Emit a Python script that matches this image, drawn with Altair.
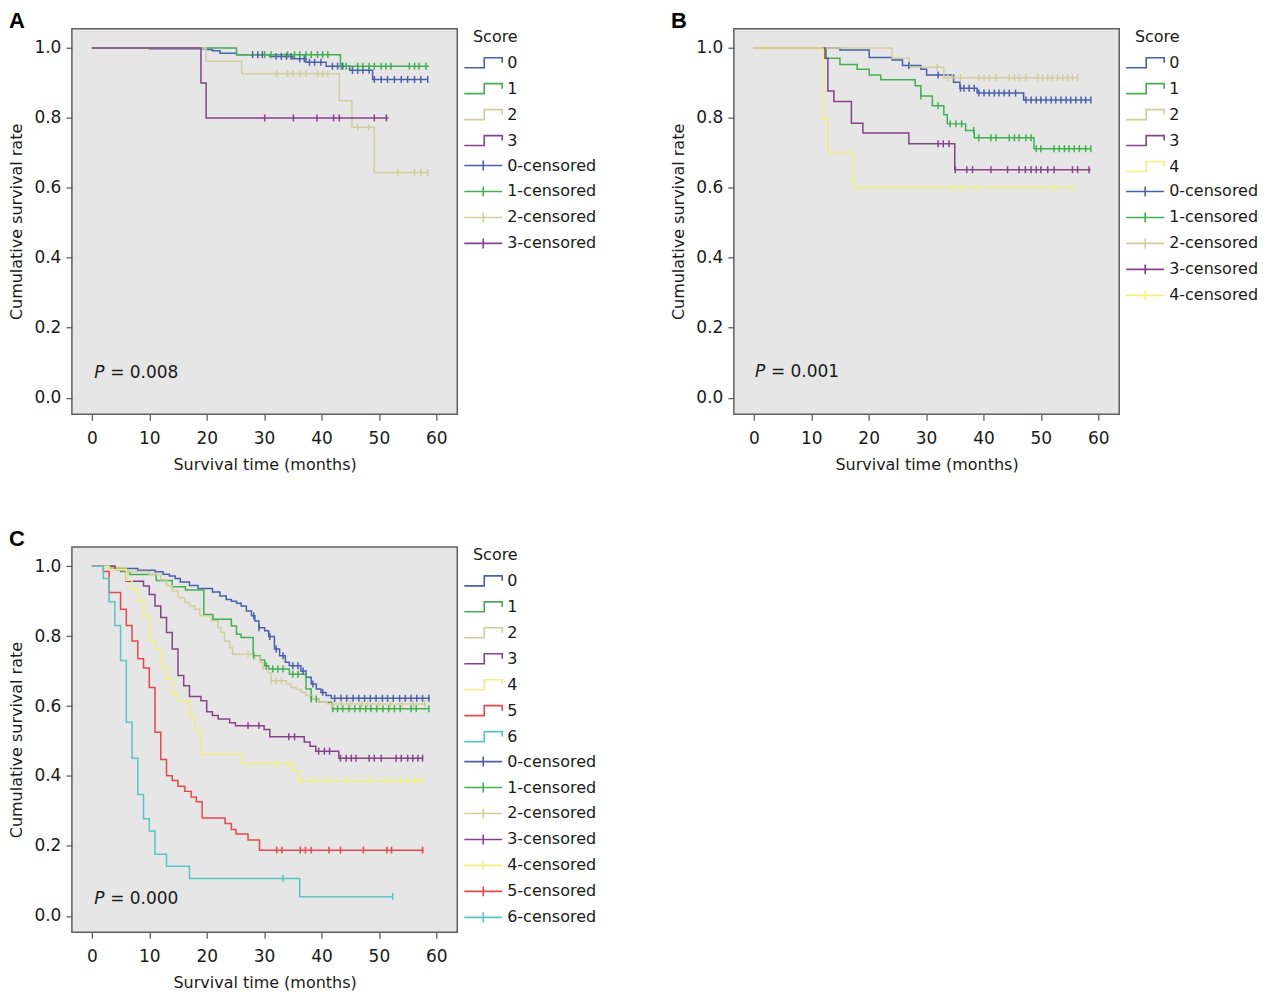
import altair as alt
import pandas as pd

COLORS = ["#4a5fae", "#40b050", "#d2ce9c", "#86428a", "#f3f07c", "#e8484c", "#5ac4c6"]
XTICKS = [0, 10, 20, 30, 40, 50, 60]
YTICKS = [0.0, 0.2, 0.4, 0.6, 0.8, 1.0]
XDOM = [-3.48, 63.65]
YDOM = [-0.047, 1.055]

# ---------------- Panel A ----------------
A0_T = [0, 10, 20, 21, 22.3, 25.2, 31, 35, 37.3, 40.8, 44.9, 48.9]
A0_S = [1.0, 0.998, 0.996, 0.992, 0.985, 0.981, 0.976, 0.969, 0.959, 0.948, 0.936, 0.91]
A0_END = 58.5
A0_C = [28.0, 28.9, 29.7, 32.1, 33.0, 33.9, 34.7, 36.2, 37.0, 37.9, 38.8, 39.9, 41.9, 42.8, 43.7,
        45.4, 46.3, 47.2, 48.3, 49.2, 50.4, 51.5, 52.7, 53.9, 55.0, 56.2, 57.3, 58.5]
A1_T = [0, 25.2, 43.3]
A1_S = [1.0, 0.981, 0.948]
A1_END = 58.7
A1_C = [30.1, 31.2, 34.1, 35.3, 36.2, 37.3, 38.2, 39.3, 40.2, 41.1, 43.4, 44.3, 46.3, 47.2, 48.3,
        49.2, 50.4, 51.2, 52.1, 55.3, 56.2, 57.0, 58.2]
A2_T = [0, 19.9, 26.1, 43.1, 45.3, 49.2]
A2_S = [1.0, 0.962, 0.926, 0.849, 0.773, 0.644]
A2_END = 58.7
A2_C = [32.2, 34.1, 35.0, 36.2, 37.3, 39.3, 40.2, 41.1, 46.3, 48.2, 53.3, 56.2, 57.3, 58.5]
A3_T = [0, 19, 19.9]
A3_S = [1.0, 0.9, 0.8]
A3_END = 51.7
A3_C = [30.1, 35.1, 39.2, 42.1, 43.1, 49.2, 51.3]

# ---------------- Panel B ----------------
B0_T = [0, 15, 20.1, 24.1, 25.9, 29.1, 30.1, 34.8, 35.9, 38.9, 47.0]
B0_S = [1.0, 0.994, 0.973, 0.966, 0.95, 0.939, 0.923, 0.902, 0.885, 0.871, 0.851]
B0_END = 58.7
B0_C = [27.0, 32.1, 36.0, 36.6, 37.5, 38.4, 39.2, 40.1, 41.0, 41.9, 42.7, 43.6, 44.5, 45.6,
        47.4, 48.3, 49.2, 50.0, 50.9, 51.8, 52.6, 53.5, 54.4, 55.2, 56.1, 57.0, 57.8, 58.7]
B1_T = [0, 12.6, 15, 18, 20.1, 22.1, 28.1, 29.1, 31.1, 33.1, 33.7, 36.9, 38.4, 48.8]
B1_S = [1.0, 0.971, 0.953, 0.939, 0.923, 0.909, 0.892, 0.863, 0.835, 0.809, 0.783, 0.764, 0.743, 0.712]
B1_END = 58.7
B1_C = [29.1, 32.1, 34.2, 35.2, 36.2, 38.3, 39.2, 41.3, 42.2, 44.5, 45.4, 46.2, 47.4, 48.3,
        49.2, 50.0, 52.3, 53.2, 54.1, 54.9, 55.8, 56.7, 57.8, 58.7]
B2_T = [0, 24.1, 27.1, 33.1]
B2_S = [1.0, 0.971, 0.945, 0.915]
B2_END = 56.4
B2_C = [31.9, 33.8, 34.6, 36.0, 39.2, 40.1, 41.0, 42.2, 44.5, 45.4, 46.2, 47.4, 49.4, 50.3,
        51.2, 52.0, 52.9, 53.8, 54.7, 55.5, 56.4]
B3_T = [0, 12.4, 12.9, 13.95, 17, 19, 27, 35]
B3_S = [1.0, 0.971, 0.877, 0.847, 0.785, 0.757, 0.726, 0.652]
B3_END = 58.7
B3_C = [32.1, 33.0, 34.0, 35.1, 37.1, 38.1, 41.3, 44.2, 46.2, 47.3, 48.3, 49.2, 50.0, 51.2,
        52.3, 55.5, 56.4, 58.4]
B4_T = [0, 12, 12.9, 17.2]
B4_S = [1.0, 0.797, 0.702, 0.6]
B4_END = 55.5
B4_C = [34.9, 36.0, 38.9, 52.3, 55.5]

# ---------------- Panel C ----------------
C0_T = [0, 4, 8, 11, 12.4, 13.5, 14.5, 15.4, 17, 18.5, 21, 22.3, 23.4, 24.3, 25.2, 26, 26.9,
        27.8, 28.4, 29.1, 30.1, 30.8, 31.8, 32.7, 33.7, 34.4, 36.4, 37.3, 38.2, 39.1, 39.9, 40.8, 41.7]
C0_S = [1.0, 0.993, 0.988, 0.984, 0.977, 0.972, 0.965, 0.955, 0.945, 0.936, 0.926, 0.915, 0.905,
        0.9, 0.894, 0.886, 0.872, 0.858, 0.843, 0.824, 0.815, 0.799, 0.763, 0.744, 0.725, 0.715,
        0.70, 0.682, 0.663, 0.649, 0.639, 0.63, 0.622]
C0_END = 58.9
C0_C = [28.2, 29.1, 31.0, 32.1, 33.3, 35.0, 35.9, 36.8, 38.5, 40.2, 42.3, 43.4, 44.4, 45.5, 46.5,
        47.5, 48.5, 49.5, 50.6, 51.5, 52.5, 53.6, 54.6, 55.6, 56.6, 57.6, 58.7]
C1_T = [0, 3, 5, 6.6, 11.2, 14, 16.3, 19.5, 21.1, 24.3, 25.2, 26, 28.1, 29.3, 30.1, 30.8, 34.4,
        37.3, 38.2, 39.6, 41.9]
C1_S = [1.0, 0.995, 0.985, 0.976, 0.959, 0.941, 0.932, 0.862, 0.848, 0.829, 0.805, 0.796, 0.744,
        0.732, 0.715, 0.706, 0.691, 0.649, 0.62, 0.611, 0.592]
C1_END = 58.7
C1_C = [28.2, 30.4, 31.5, 32.4, 33.3, 35.0, 35.9, 38.2, 39.1, 42.0, 42.8, 43.7, 44.8, 45.8, 46.7,
        47.7, 48.6, 49.6, 50.7, 51.7, 52.7, 53.7, 55.6, 56.5, 58.7]
C2_T = [0, 3, 6, 10, 12, 13, 14, 15, 16.2, 17, 17.9, 18.8, 20.8, 22, 22.5, 23.1, 24, 24.5, 28.1,
        29.3, 29.8, 30.7, 31.2, 33.9, 34.7, 35.6, 36.5, 37.3, 38.5, 39.6, 41]
C2_S = [1.0, 0.995, 0.985, 0.976, 0.961, 0.944, 0.93, 0.91, 0.896, 0.886, 0.877, 0.858, 0.843,
        0.824, 0.81, 0.786, 0.767, 0.748, 0.742, 0.725, 0.706, 0.696, 0.672, 0.663, 0.653, 0.647,
        0.639, 0.63, 0.62, 0.611, 0.606]
C2_END = 58.3
C2_C = [27.2, 31.2, 32.1, 33.0, 42.0, 43.5, 45.0, 47.0, 48.0, 50.0, 52.0, 54.0, 56.0, 58.0]
C3_T = [0, 4, 6, 9, 10, 11, 12, 13, 14, 15, 16, 17, 19, 20, 21, 22, 24, 25, 30, 31, 37, 38, 39, 43]
C3_S = [1.0, 0.99, 0.957, 0.943, 0.919, 0.886, 0.853, 0.81, 0.763, 0.687, 0.658, 0.627, 0.615,
        0.584, 0.573, 0.563, 0.552, 0.544, 0.533, 0.512, 0.497, 0.485, 0.471, 0.451]
C3_END = 57.7
C3_C = [27.2, 29.1, 34.3, 35.3, 39.5, 40.5, 41.4, 43.3, 44.3, 45.2, 46.0, 48.3, 49.2, 50.4, 53.0,
        53.9, 55.0, 55.9, 56.8, 57.6]
C4_T = [0, 3, 6, 7, 8, 9, 10, 11, 12, 13, 14, 15, 17, 18, 19, 26, 35, 36]
C4_S = [1.0, 0.99, 0.96, 0.935, 0.9, 0.86, 0.786, 0.763, 0.71, 0.677, 0.634, 0.615, 0.573, 0.53,
        0.463, 0.435, 0.416, 0.387]
C4_END = 57.8
C4_C = [32.1, 34.3, 36.5, 38.5, 41.1, 44.3, 48.3, 51.5, 52.7, 53.9, 55.0, 56.2, 57.3]
C5_T = [0, 2, 3, 5, 6, 7, 8, 9, 10, 11, 12, 13, 14, 15, 16.2, 17.3, 18.2, 19.2, 23.2, 24.3, 25.1,
        27.2, 29.2]
C5_S = [1.0, 0.985, 0.925, 0.877, 0.83, 0.786, 0.735, 0.709, 0.653, 0.525, 0.447, 0.401, 0.387,
        0.371, 0.356, 0.34, 0.326, 0.28, 0.264, 0.247, 0.234, 0.217, 0.188]
C5_END = 57.8
C5_C = [32.2, 33.1, 36.3, 37.2, 38.2, 41.3, 43.3, 47.3, 51.4, 52.2, 57.6]
C6_T = [0, 2, 3, 4, 5, 6, 7, 8, 9, 10, 11, 13, 17, 36.2]
C6_S = [1.0, 0.965, 0.898, 0.83, 0.73, 0.554, 0.451, 0.347, 0.278, 0.243, 0.176, 0.142, 0.107, 0.055]
C6_END = 52.4
C6_C = [33.3, 52.4]

P_TEXT = ["= 0.008", "= 0.001", "= 0.000"]
P_POS = [(0.4, 0.07), (0.2, 0.074), (0.4, 0.047)]
LETTERS = ["A", "B", "C"]

STEP_SYM = "M-1,1L3,1L3,-1L6.6,-1L6.6,0"
CENS_SYM = "M-1,0L6.6,0M2.8,-1L2.8,1"


def curve_rows(key, T, S, end):
    rows = [{"t": t, "s": s, "key": key} for t, s in zip(T, S)]
    rows.append({"t": end, "s": S[-1], "key": key})
    return rows


def cens_rows(key, T, S, C):
    rows = []
    for c in C:
        val = S[0]
        for t, v in zip(T, S):
            if t <= c:
                val = v
        rows.append({"t": c, "s": val, "ckey": key + "-censored"})
    return rows


def panel(idx, groups):
    keys = [g[0] for g in groups]
    ckeys = [k + "-censored" for k in keys]
    rng = [COLORS[int(k)] for k in keys]
    lrows, crows = [], []
    for key, T, S, end, C in groups:
        lrows += curve_rows(key, T, S, end)
        crows += cens_rows(key, T, S, C)
    line_df = pd.DataFrame(lrows)
    cens_df = pd.DataFrame(crows)
    px, py = P_POS[idx]
    txt_df = pd.DataFrame({"t": [px], "s": [py], "p": ["P"], "v": [P_TEXT[idx]]})

    x = alt.X("t:Q", scale=alt.Scale(domain=XDOM, nice=False, zero=False),
              axis=alt.Axis(values=XTICKS, format="d", title="Survival time (months)",
                            labelPadding=10, titlePadding=10))
    y = alt.Y("s:Q", scale=alt.Scale(domain=YDOM, nice=False, zero=False),
              axis=alt.Axis(values=YTICKS, format=".1f", title="Cumulative survival rate",
                            labelPadding=5, titlePadding=9))
    color = alt.Color(
        "key:N",
        scale=alt.Scale(domain=keys, range=rng),
        legend=alt.Legend(title="\u2800Score", symbolType=STEP_SYM,
                          symbolFillColor="transparent"),
    )
    stroke = alt.Stroke(
        "ckey:N",
        scale=alt.Scale(domain=ckeys, range=rng),
        legend=alt.Legend(title=None, symbolType=CENS_SYM, symbolFillColor="transparent"),
    )
    lines = alt.Chart(line_df).mark_line(interpolate="step-after", strokeWidth=1.5).encode(
        x=x, y=y, color=color)
    cens = alt.Chart(cens_df).mark_point(shape="M0,-1L0,1", size=49, filled=False,
                                         strokeWidth=1.5, opacity=1).encode(
        x=x, y=y, stroke=stroke)
    ptxt = alt.Chart(txt_df).mark_text(align="left", baseline="middle", fontSize=17,
                                        fontStyle="italic", font="DejaVu Sans",
                                        color="#1a1a1a").encode(x=x, y=y, text="p:N")
    vtxt = alt.Chart(txt_df).mark_text(align="left", baseline="middle", fontSize=17, dx=16,
                                        font="DejaVu Sans", color="#1a1a1a").encode(
        x=x, y=y, text="v:N")
    return alt.layer(lines, cens, ptxt, vtxt).properties(
        width=386, height=386,
        title=alt.TitleParams(LETTERS[idx], anchor="start", fontSize=22, fontWeight="bold",
                              font="Liberation Sans", color="black", offset=-4),
    )


pA = panel(0, [("0", A0_T, A0_S, A0_END, A0_C), ("1", A1_T, A1_S, A1_END, A1_C),
               ("2", A2_T, A2_S, A2_END, A2_C), ("3", A3_T, A3_S, A3_END, A3_C)])
pB = panel(1, [("0", B0_T, B0_S, B0_END, B0_C), ("1", B1_T, B1_S, B1_END, B1_C),
               ("2", B2_T, B2_S, B2_END, B2_C), ("3", B3_T, B3_S, B3_END, B3_C),
               ("4", B4_T, B4_S, B4_END, B4_C)])
pC = panel(2, [("0", C0_T, C0_S, C0_END, C0_C), ("1", C1_T, C1_S, C1_END, C1_C),
               ("2", C2_T, C2_S, C2_END, C2_C), ("3", C3_T, C3_S, C3_END, C3_C),
               ("4", C4_T, C4_S, C4_END, C4_C), ("5", C5_T, C5_S, C5_END, C5_C),
               ("6", C6_T, C6_S, C6_END, C6_C)])

top = alt.hconcat(pA, pB, spacing=72).resolve_scale(color="independent", stroke="independent")

chart = alt.vconcat(
    top,
    pC,
    spacing=54,
).resolve_scale(
    color="independent", stroke="independent",
).configure(
    font="DejaVu Sans",
    padding=0,
).configure_view(
    fill="#e6e6e6", stroke="#5f5f5f", strokeWidth=1.5,
).configure_axis(
    domain=False, grid=False, tickSize=6, tickColor="#555555", tickWidth=1.2,
    labelFont="DejaVu Sans", labelFontSize=17, labelColor="#1a1a1a",
    titleFont="DejaVu Sans", titleFontSize=16, titleFontWeight="normal", titleColor="#1a1a1a",
).configure_legend(
    labelFont="DejaVu Sans", labelFontSize=16, labelColor="#1a1a1a",
    titleFont="DejaVu Sans", titleFontSize=16, titleFontWeight="normal", titleColor="#1a1a1a",
    symbolSize=100, symbolStrokeWidth=1.6, rowPadding=8, labelOffset=30, offset=4, padding=0,
    titlePadding=10, labelLimit=300,
)

chart.save("out.html", embed_options={"renderer": "svg", "actions": False})
